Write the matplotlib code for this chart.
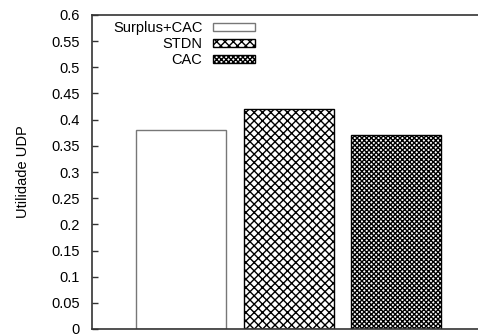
import matplotlib
matplotlib.use("Agg")
import matplotlib.pyplot as plt
import numpy as np

categories = ["Surplus+CAC", "STDN", "CAC"]
values = [0.38, 0.42, 0.37]
hatches = ["", "xxxx", "xxxxxxx"]
yticks = [0, 0.05, 0.1, 0.15, 0.2, 0.25, 0.3, 0.35, 0.4, 0.45, 0.5, 0.55, 0.6]
ytick_labels = ["0", "0.05", "0.1", "0.15", "0.2", "0.25", "0.3", "0.35", "0.4", "0.45", "0.5", "0.55", "0.6"]

plt.rcParams['font.family'] = ['Liberation Sans', 'DejaVu Sans']
plt.rcParams['hatch.linewidth'] = 1.0

W, H = 478, 336
fig = plt.figure(figsize=(W / 100, H / 100), dpi=100)
ax = fig.add_axes([92 / W, (H - 329) / H, (W - 92) / W, 314 / H])

x = np.arange(len(categories))
edgecolors = ["#777777", "black", "black"]
for i, (c, v, h, ec) in enumerate(zip(categories, values, hatches, edgecolors)):
    ax.bar(x[i], v, width=0.837, color="white", edgecolor=ec, hatch=h,
           linewidth=1.0, label=c)

ax.set_xlim(-0.828, 2.758)
ax.set_ylim(0, 0.6)
ax.set_xticks([])
ax.set_yticks(yticks)
ax.set_yticklabels(ytick_labels)
ax.tick_params(axis="y", direction="in", length=4, width=1, pad=9, labelsize=10.5, colors="#333333", labelcolor="black")
ax.set_ylabel("Utilidade UDP", fontsize=10.5, labelpad=15)

for s in ["left", "top", "bottom"]:
    ax.spines[s].set_color("#333333")
    ax.spines[s].set_linewidth(1.2)
ax.spines["right"].set_visible(False)

leg = ax.legend(loc="upper right", bbox_to_anchor=(255 / W, (H - 21) / H),
                bbox_transform=fig.transFigure, frameon=False, markerfirst=False,
                fontsize=10.5, handlelength=2.9, handleheight=0.48,
                handletextpad=0.7, labelspacing=0.15, borderpad=0, borderaxespad=0)

fig.savefig("out.png", dpi=100)
